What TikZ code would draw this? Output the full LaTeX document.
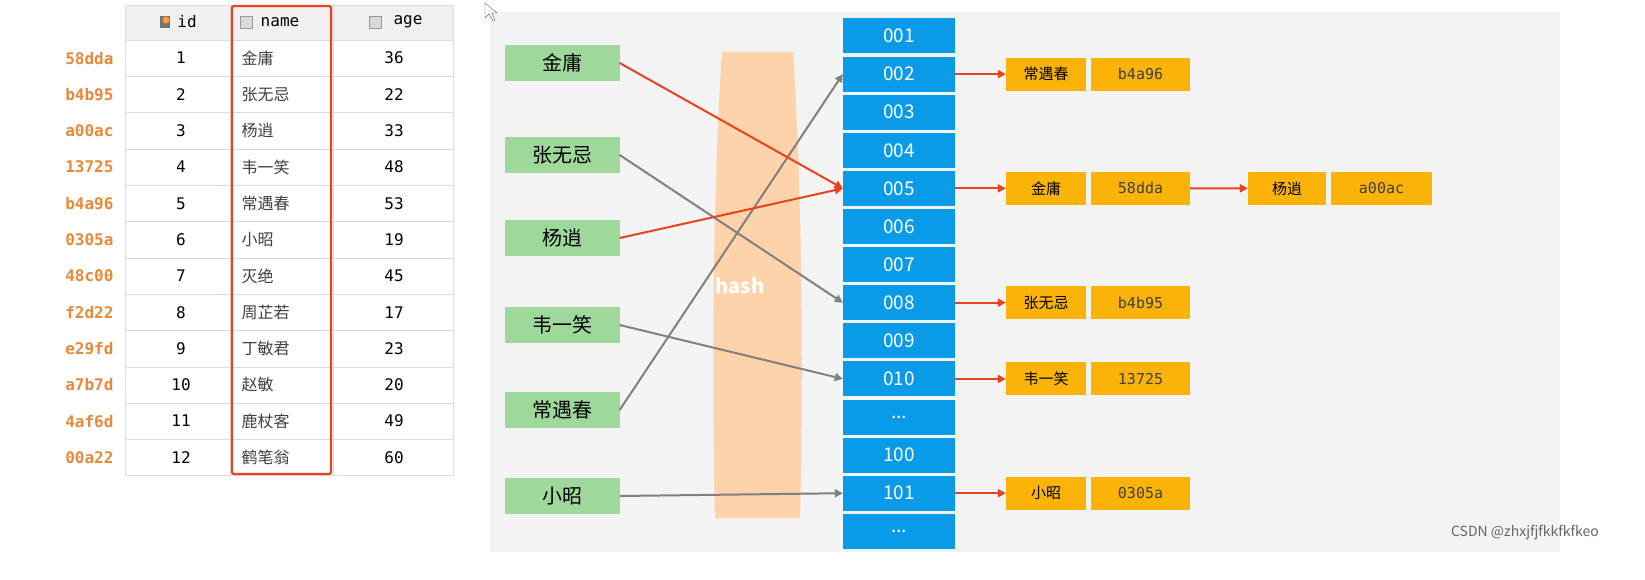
\documentclass[tikz,border=0pt]{standalone}
\usepackage{fontspec}
\setmainfont{Noto Sans CJK SC}
\newfontfamily\monof{DejaVu Sans Mono}
\usetikzlibrary{arrows.meta}
\definecolor{gbox}{HTML}{9ED99B}
\definecolor{bbox}{HTML}{0A9BE8}
\definecolor{obox}{HTML}{FBB307}
\definecolor{hashc}{HTML}{FDD3AC}
\definecolor{panel}{HTML}{F3F3F3}
\definecolor{ored}{HTML}{E8421F}
\definecolor{codec}{HTML}{E8893A}
\definecolor{grid}{HTML}{DDDDDD}
\tikzset{
 gnode/.style={fill=gbox,minimum width=115pt,minimum height=36pt,inner sep=0,font=\fontsize{20}{20}\selectfont},
 bnode/.style={fill=bbox,minimum width=112pt,minimum height=35pt,inner sep=0,text=white,font=\fontsize{19}{19}\selectfont},
 onode/.style={fill=obox,minimum height=33pt,inner sep=0,font=\fontsize{15}{15}\selectfont},
 ocode/.style={onode,font=\monof\fontsize{15}{15}\selectfont,text=black!75},
 redarr/.style={draw=ored,line width=2pt,-{Triangle[length=8pt,width=8pt]}},
 grayarr/.style={draw=gray,line width=2pt,-{Triangle[length=8pt,width=8pt]}},
 cell/.style={font=\monof\fontsize{16}{16}\selectfont},
 code/.style={anchor=east,text=codec,font=\monof\bfseries\fontsize{16}{16}\selectfont}
}
\begin{document}
\begin{tikzpicture}[x=1pt,y=-1pt]
\useasboundingbox (0,0) rectangle (1645,580);
\fill[white] (0,0) rectangle (1645,580);
% table
\fill[black!6] (125,5) rectangle (453,40);
\foreach \i in {0,1,2,3,4,5,6,7,8,9,10,11,12} \draw[grid] (125,{40+\i*36.3}) -- (453,{40+\i*36.3});
\draw[grid] (125,5) rectangle (453,475);
\draw[grid] (230,5) -- (230,475) (333,5) -- (333,475);
\node[cell] (hid) at (187,22) {id};
\fill[black!55] (160,16) rectangle (170,28);
\fill[orange!80] (166,20) circle (3.5pt);
\node[cell] (hname) at (280,22) {name};
\draw[black!40,fill=black!15] (240,16) rectangle (252,28);
\node[cell] (hage) at (408,22) {age};
\draw[black!40,fill=black!15] (369,16) rectangle (381,28);
\foreach \c/\n/\a [count=\i] in {58dda/金庸/36,b4b95/张无忌/22,a00ac/杨逍/33,13725/韦一笑/48,b4a96/常遇春/53,0305a/小昭/19,48c00/灭绝/45,f2d22/周芷若/17,e29fd/丁敏君/23,a7b7d/赵敏/20,4af6d/鹿杖客/49,00a22/鹤笔翁/60}{
 \node[code] (c\i) at (117,{40+(\i-0.5)*36.3}) {\c};
 \node[cell] (id\i) at (181,{40+(\i-0.5)*36.3}) {\i};
 \node[anchor=west,font=\fontsize{16}{16}\selectfont,text=black!75] (nm\i) at (238,{40+(\i-0.5)*36.3}) {\n};
 \node[cell] (ag\i) at (394,{40+(\i-0.5)*36.3}) {\a};
}
\draw[ored,line width=2.2pt,rounded corners=2pt] (232,6) rectangle (331,474);
% panel
\fill[panel] (490,12) rectangle (1560,552);
\draw[black!60] (485,3) -- (485,18) -- (489,14) -- (493,21) -- (495,20) -- (492,13) -- (497,13) -- cycle;
% hash band
\fill[hashc] (722,52) .. controls (712,200) and (712,400) .. (715,518) -- (800,518) .. controls (803,400) and (803,200) .. (793,52) -- cycle;
\node[text=white,font=\bfseries\fontsize{20}{20}\selectfont] (hashlbl) at (740,286) {hash};
% green
\node[gnode] (g1) at (562,63) {金庸};
\node[gnode] (g2) at (562,155) {张无忌};
\node[gnode] (g3) at (562,238) {杨逍};
\node[gnode] (g4) at (562,325) {韦一笑};
\node[gnode] (g5) at (562,410) {常遇春};
\node[gnode] (g6) at (562,496) {小昭};
% blue
\foreach \t [count=\i] in {001,002,003,004,005,006,007,008,009,010,.{}.{}.,100,101,.{}.{}.}
 \node[bnode] (b\i) at (899,{36+(\i-1)*38.1}) {\t};
% orange
\foreach \b/\n/\c/\k in {2/常遇春/b4a96/a,5/金庸/58dda/b,8/张无忌/b4b95/c,10/韦一笑/13725/d,13/小昭/0305a/e}{
 \node[onode,minimum width=80pt] (n\k) at (1046,{36+(\b-1)*38.1}) {\n};
 \node[ocode,minimum width=99pt] (v\k) at (1140.5,{36+(\b-1)*38.1}) {\c};
 \draw[redarr] (b\b.east) -- (n\k.west);
}
\node[onode,minimum width=78pt] (nf) at (1287,188.4) {杨逍};
\node[ocode,minimum width=101pt] (vf) at (1381.5,188.4) {a00ac};
\draw[redarr] (vb.east) -- (nf.west);
% mapping arrows
\draw[grayarr] (g2.east) -- (b8.west);
\draw[grayarr] (g4.east) -- (b10.west);
\draw[grayarr] (g5.east) -- (b2.west);
\draw[grayarr] (g6.east) -- (b13.west);
\draw[redarr] (g1.east) -- (b5.west);
\draw[redarr] (g3.east) -- (b5.west);
\node[text=black!60,font=\fontsize{14}{14}\selectfont] (wm) at (1525,533) {CSDN @zhxjfjfkkfkfkeo};
\end{tikzpicture}
\end{document}
